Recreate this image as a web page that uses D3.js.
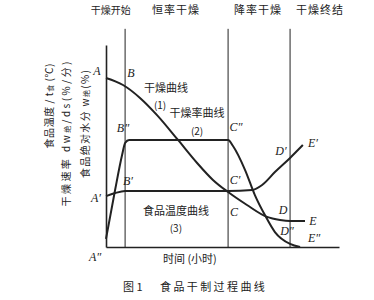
<!DOCTYPE html>
<html>
<head>
<meta charset="utf-8">
<script src="https://cdn.jsdelivr.net/npm/d3@7"></script>
<style>
  body { margin: 0; background: #fff; }
  svg { display: block; }
</style>
</head>
<body>
<div class="chart"></div>
<script>
// drying curve (1): absolute moisture
const dryTime = [0, 0.73, 1.46, 2.19, 3.09, 3.91, 4.59, 5.24, 6.05, 6.91, 7.47, 7.9, 8.54];
const dryValue = [83.7, 80.2, 73.8, 65.3, 53.0, 41.6, 33.2, 27.2, 20.8, 14.9, 13.4, 12.9, 12.9];

// drying-rate curve (2)
const rateTime = [0, 0.39, 0.69, 0.82, 0.99, 5.24, 5.45, 5.97, 6.39, 6.82, 7.25, 7.9, 8.33];
const rateValue = [4, 28.2, 45.5, 51.5, 53, 53, 50, 38.1, 25.7, 15.8, 7.4, 1.5, 0];

// food temperature curve (3)
const tempTime = [0, 0.39, 0.82, 5.24, 6.27, 6.7, 7.25, 7.9, 8.45];
const tempValue = [25.2, 26.7, 27.7, 27.7, 28.2, 30.7, 37.1, 44.1, 50.5];

// stage boundaries (start B, C, end D)
const stageTimes = [0.82, 5.24, 7.9];
const stageTop = 108;

// stage titles along the top
const stageNames = ["干燥开始", "恒率干燥", "降率干燥", "干燥终结"];
const stageNameTime = [0.2, 3.0, 6.52, 9.18];

// point letters
const pointNames = ["A", "B", "B″", "B′", "A′", "A″", "C″", "C′", "C", "D′", "D", "D″", "E", "E″", "E′"];
const pointTime = [-0.39, 1.07, 0.73, 0.94, -0.43, -0.47, 5.58, 5.54, 5.49, 7.51, 7.6, 7.77, 8.88, 8.93, 8.88];
const pointValue = [87.1, 86.1, 58.9, 32.7, 24.3, -5.0, 59.4, 33.2, 17.3, 47.5, 18.3, 7.9, 12.9, 4.5, 51.5];

// curve names
const curveNames = ["干燥曲线", "(1)", "干燥率曲线", "(2)", "食品温度曲线", "(3)"];
const curveNameTime = [2.58, 2.32, 3.91, 3.91, 3.0, 3.0];
const curveNameValue = [78.6, 70.2, 66.2, 57.6, 17.6, 9.6];

const width = 374;
const height = 300;
const ink = "#222";
const cjk = "'Noto Sans CJK SC', sans-serif";

const svg = d3
  .select(".chart")
  .append("svg")
  .attr("width", width)
  .attr("height", height);

const x = d3.scaleLinear().domain([0, 10]).range([106, 339]);
const y = d3.scaleLinear().domain([0, 100]).range([247, 45]);

// axes (no ticks, just the lines)
svg
  .append("g")
  .attr("transform", `translate(0,${y(0)})`)
  .call(d3.axisBottom(x).ticks(0).tickSizeOuter(0))
  .call((g) => g.select(".domain").attr("stroke", ink).attr("stroke-width", 1.6));

svg
  .append("g")
  .attr("transform", `translate(${x(0)},0)`)
  .call(d3.axisLeft(y).ticks(0).tickSizeOuter(0))
  .call((g) => g.select(".domain").attr("stroke", ink).attr("stroke-width", 1.6));

// stage boundary lines
svg
  .selectAll("line.stage")
  .data(stageTimes)
  .enter()
  .append("line")
  .attr("class", "stage")
  .attr("x1", (d) => x(d))
  .attr("x2", (d) => x(d))
  .attr("y1", y(stageTop))
  .attr("y2", y(0))
  .attr("stroke", ink)
  .attr("stroke-width", 1);

// curves
const line = d3
  .line()
  .x((d) => x(d[0]))
  .y((d) => y(d[1]))
  .curve(d3.curveMonotoneX);

const curves = [
  d3.zip(dryTime, dryValue),
  d3.zip(rateTime, rateValue),
  d3.zip(tempTime, tempValue),
];

svg
  .selectAll("path.curve")
  .data(curves)
  .enter()
  .append("path")
  .attr("class", "curve")
  .attr("d", line)
  .attr("fill", "none")
  .attr("stroke", ink)
  .attr("stroke-width", 2);

// stage titles
svg
  .selectAll("text.stage")
  .data(stageNames)
  .enter()
  .append("text")
  .attr("class", "stage")
  .attr("x", (d, i) => x(stageNameTime[i]))
  .attr("y", 14)
  .text((d) => d)
  .attr("font-family", cjk)
  .attr("font-size", (d, i) => (i === 0 ? 10 : 11))
  .attr("letter-spacing", (d, i) => (i === 0 ? 0 : 1))
  .attr("text-anchor", "middle")
  .attr("fill", ink);

// point letters
svg
  .selectAll("text.point")
  .data(pointNames)
  .enter()
  .append("text")
  .attr("class", "point")
  .attr("x", (d, i) => x(pointTime[i]))
  .attr("y", (d, i) => y(pointValue[i]))
  .attr("dy", 4)
  .text((d) => d)
  .attr("font-family", "'Liberation Serif', serif")
  .attr("font-style", "italic")
  .attr("font-size", 12)
  .attr("text-anchor", "middle")
  .attr("fill", ink);

// curve names
svg
  .selectAll("text.curvename")
  .data(curveNames)
  .enter()
  .append("text")
  .attr("class", "curvename")
  .attr("x", (d, i) => x(curveNameTime[i]))
  .attr("y", (d, i) => y(curveNameValue[i]))
  .attr("dy", 4)
  .text((d) => d)
  .attr("font-family", cjk)
  .attr("font-size", (d) => (d.startsWith("(") ? 10 : 11))
  .attr("text-anchor", "middle")
  .attr("fill", ink);

// x axis title
svg
  .append("text")
  .attr("x", x(3.6))
  .attr("y", y(0) + 16)
  .text("时间 (小时)")
  .attr("font-family", cjk)
  .attr("font-size", 11)
  .attr("text-anchor", "middle")
  .attr("fill", ink);

// y axis titles (three stacked)
const yTitles = [
  { cx: 49, cy: 106, len: 85, parts: [["食品温度 / t", 10], ["食", 7], [" (℃)", 10]] },
  { cx: 66, cy: 134, len: 145, parts: [["干燥速率 dw", 10], ["绝", 7], ["/ds(%/分)", 10]] },
  { cx: 85, cy: 124, len: 108, parts: [["食品绝对水分 w", 10], ["绝", 7], ["(%)", 10]] },
];

yTitles.forEach((t) => {
  const txt = svg
    .append("text")
    .attr("transform", `translate(${t.cx},${t.cy}) rotate(-90)`)
    .attr("dy", 4)
    .attr("text-anchor", "middle")
    .attr("font-family", cjk)
    .attr("fill", ink)
    .attr("textLength", t.len)
    .attr("lengthAdjust", "spacing");
  t.parts.forEach((p) => {
    txt.append("tspan").attr("font-size", p[1]).text(p[0]);
  });
});

// caption
svg
  .append("text")
  .attr("x", 123)
  .attr("y", 291)
  .text("图 1")
  .attr("font-family", cjk)
  .attr("font-size", 11)
  .attr("fill", ink);

svg
  .append("text")
  .attr("x", 160)
  .attr("y", 291)
  .text("食品干制过程曲线")
  .attr("font-family", cjk)
  .attr("font-size", 11)
  .attr("letter-spacing", 2.4)
  .attr("fill", ink);
</script>
</body>
</html>
